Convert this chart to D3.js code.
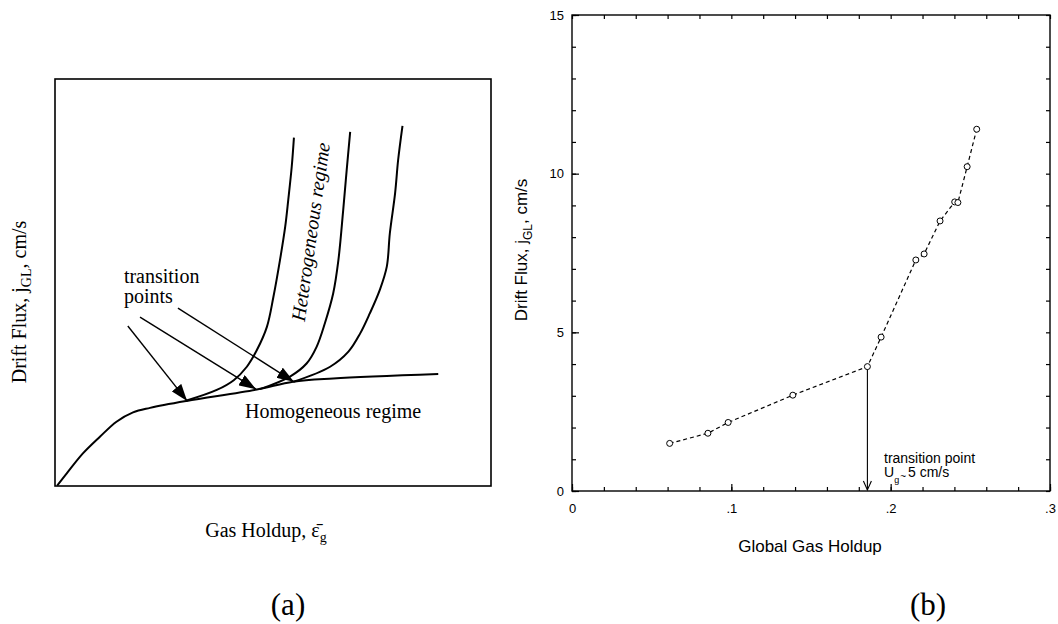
<!DOCTYPE html>
<html>
<head>
<meta charset="utf-8">
<script src="https://cdn.jsdelivr.net/npm/d3@7"></script>
<style>
  body { margin: 0; background: #fff; }
  svg { display: block; }
</style>
</head>
<body>
<svg id="chart" width="1058" height="624"></svg>
<script>
// ---- panel (a): schematic, values in arbitrary units 0..100 ----
var homogeneous = [[0.5,0.1],[2.7,3.1],[6.4,8.0],[10.3,12.1],[14.1,15.8],[17.9,18.1],[21.8,19.2],
                   [30.2,20.9],[46.3,23.7],[54.6,25.6],[63.8,26.4],[87.9,27.5]];
var hetero1 = [[30.2,21.0],[37.1,23.6],[41.0,26.0],[44.0,29.3],[46.3,33.4],[48.6,39.1],[50.1,46.5],
               [51.6,55.5],[52.8,63.7],[53.5,70.3],[54.3,78.5],[54.8,85.6]];
var hetero2 = [[47.0,23.8],[53.9,26.9],[57.7,30.1],[60.0,34.2],[61.9,40.0],[63.8,47.3],[65.0,55.5],
               [66.1,67.8],[66.9,77.6],[67.7,87.0]];
var hetero3 = [[54.7,25.6],[63.1,29.3],[67.3,33.0],[70.0,37.5],[72.2,42.4],[74.5,48.2],[76.1,53.9],
               [76.8,62.1],[78.0,71.9],[78.7,80.1],[79.7,88.5]];
// arrows: [from, to]
var transitionArrows = [[[16.7,39.3],[30.3,20.9]], [[19.5,41.5],[46.1,23.8]], [[28.2,43.7],[54.8,25.6]]];

// ---- panel (b): measured data ----
var holdup = [0.0613, 0.0853, 0.098, 0.1386, 0.1854, 0.194, 0.2158, 0.221, 0.231, 0.2402, 0.2422, 0.248, 0.254];
var driftFlux = [1.50, 1.82, 2.16, 3.02, 3.92, 4.85, 7.28, 7.47, 8.51, 9.11, 9.09, 10.22, 11.40];
var xMajor = [0, 0.1, 0.2, 0.3];
var yMajor = [0, 5, 10, 15];
var transitionHoldup = 0.1854;

var svg = d3.select("#chart");
svg.append("rect").attr("width", 1058).attr("height", 624).attr("fill", "#fff");

var defs = svg.append("defs");
defs.append("marker")
    .attr("id", "solidHead")
    .attr("viewBox", "0 0 10 10")
    .attr("refX", 10).attr("refY", 5)
    .attr("markerWidth", 17).attr("markerHeight", 12)
    .attr("markerUnits", "userSpaceOnUse")
    .attr("orient", "auto")
    .attr("preserveAspectRatio", "none")
  .append("path").attr("d", "M0,0L10,5L0,10Z").attr("fill", "#000");

// =============== panel (a) ===============
var ax = d3.scaleLinear().domain([0, 100]).range([55, 491]),
    ay = d3.scaleLinear().domain([0, 100]).range([486, 79]);
var serif = "'Liberation Serif', 'Times New Roman', serif";

var pa = svg.append("g");
pa.append("rect")
    .attr("x", ax(0)).attr("y", ay(100))
    .attr("width", ax(100) - ax(0)).attr("height", ay(0) - ay(100))
    .attr("fill", "none").attr("stroke", "#000").attr("stroke-width", 1.6);

var curveLine = d3.line()
    .x(function (d) { return ax(d[0]); })
    .y(function (d) { return ay(d[1]); })
    .curve(d3.curveCatmullRom.alpha(0.5));

[homogeneous, hetero1, hetero2, hetero3].forEach(function (c) {
    pa.append("path").attr("d", curveLine(c))
        .attr("fill", "none").attr("stroke", "#000").attr("stroke-width", 2);
});

transitionArrows.forEach(function (a) {
    pa.append("line")
        .attr("x1", ax(a[0][0])).attr("y1", ay(a[0][1]))
        .attr("x2", ax(a[1][0])).attr("y2", ay(a[1][1]))
        .attr("stroke", "#000").attr("stroke-width", 1.4)
        .attr("marker-end", "url(#solidHead)");
});

var tp = pa.append("text").attr("font-family", serif).attr("font-size", 20);
tp.append("tspan").attr("x", ax(15.8)).attr("y", ay(49.9)).text("transition");
tp.append("tspan").attr("x", ax(15.8)).attr("y", ay(45.0)).text("points");
pa.append("text").attr("x", ax(43.6)).attr("y", ay(16.7))
    .attr("font-family", serif).attr("font-size", 20).text("Homogeneous regime");
pa.append("text")
    .attr("transform", "translate(" + ax(57.3) + "," + ay(40.3) + ") rotate(-82)")
    .attr("font-family", serif).attr("font-size", 20).attr("font-style", "italic")
    .text("Heterogeneous regime");

// axis titles
var ylabA = pa.append("text")
    .attr("transform", "translate(26,302) rotate(-90)")
    .attr("text-anchor", "middle")
    .attr("font-family", serif).attr("font-size", 20);
ylabA.append("tspan").text("Drift Flux, j");
ylabA.append("tspan").attr("font-size", 14).attr("dy", 5).text("GL");
ylabA.append("tspan").attr("dy", -5).text(", cm/s");

var xlabA = pa.append("text")
    .attr("x", 266).attr("y", 537)
    .attr("text-anchor", "middle")
    .attr("font-family", serif).attr("font-size", 20);
xlabA.append("tspan").text("Gas Holdup, \u03B5\u0304");
xlabA.append("tspan").attr("font-size", 14).attr("dy", 5).text("g");

svg.append("text").attr("x", 288).attr("y", 615).attr("text-anchor", "middle")
    .attr("font-family", serif).attr("font-size", 31).text("(a)");
svg.append("text").attr("x", 928).attr("y", 615).attr("text-anchor", "middle")
    .attr("font-family", serif).attr("font-size", 31).text("(b)");

// =============== panel (b) ===============
var sans = "'Liberation Sans', Arial, Helvetica, sans-serif";
var x = d3.scaleLinear().domain([0, 0.3]).range([572, 1050]),
    y = d3.scaleLinear().domain([0, 15]).range([491, 15]);
var pb = svg.append("g");

function fmt(d) { return d === 0 ? "0" : d3.format(".1f")(d).replace(/^0/, ""); }

var xMinor = d3.range(0, 0.3001, 0.02), yMinor = d3.range(0, 15.01, 1);

// minor + major ticks, inward on all four sides
pb.append("g").attr("transform", "translate(0," + y(0) + ")")
    .call(d3.axisBottom(x).tickValues(xMinor).tickSize(-4).tickFormat(""));
pb.append("g").attr("transform", "translate(0," + y(15) + ")")
    .call(d3.axisTop(x).tickValues(xMinor).tickSize(-4).tickFormat(""));
pb.append("g").attr("transform", "translate(" + x(0) + ",0)")
    .call(d3.axisLeft(y).tickValues(yMinor).tickSize(-4).tickFormat(""));
pb.append("g").attr("transform", "translate(" + x(0.3) + ",0)")
    .call(d3.axisRight(y).tickValues(yMinor).tickSize(-4).tickFormat(""));

pb.append("g").attr("class", "major").attr("transform", "translate(0," + y(0) + ")")
    .call(d3.axisBottom(x).tickValues(xMajor).tickSize(-7).tickPadding(13).tickFormat(fmt));
pb.append("g").attr("class", "major").attr("transform", "translate(" + x(0) + ",0)")
    .call(d3.axisLeft(y).tickValues(yMajor).tickSize(-7).tickPadding(8).tickFormat(String));

pb.selectAll(".domain").remove();
pb.selectAll(".tick line").attr("stroke", "#000").attr("stroke-width", 1.2);
pb.selectAll(".major text").attr("font-family", sans).attr("font-size", 13).attr("fill", "#000");

pb.append("rect")
    .attr("x", x(0)).attr("y", y(15))
    .attr("width", x(0.3) - x(0)).attr("height", y(0) - y(15))
    .attr("fill", "none").attr("stroke", "#000").attr("stroke-width", 1.4);

var pts = holdup.map(function (h, i) { return [h, driftFlux[i]]; });

pb.append("path")
    .attr("d", d3.line().x(function (d) { return x(d[0]); }).y(function (d) { return y(d[1]); })(pts))
    .attr("fill", "none").attr("stroke", "#000").attr("stroke-width", 1.2)
    .attr("stroke-dasharray", "4,3");

pb.selectAll("circle.pt").data(pts).enter().append("circle")
    .attr("class", "pt")
    .attr("cx", function (d) { return x(d[0]); })
    .attr("cy", function (d) { return y(d[1]); })
    .attr("r", 3)
    .attr("fill", "#fff").attr("stroke", "#000").attr("stroke-width", 1);

// transition arrow
var tIdx = holdup.indexOf(transitionHoldup);
var ax0 = x(transitionHoldup);
pb.append("line")
    .attr("x1", ax0).attr("y1", y(driftFlux[tIdx]) + 3)
    .attr("x2", ax0).attr("y2", y(0) - 1)
    .attr("stroke", "#000").attr("stroke-width", 1.1);
pb.append("path")
    .attr("d", d3.line()([[ax0 - 4, y(0) - 10], [ax0, y(0) - 1], [ax0 + 4, y(0) - 10]]))
    .attr("fill", "none").attr("stroke", "#000").attr("stroke-width", 1.1);

pb.append("text").attr("x", 884).attr("y", 463)
    .attr("font-family", sans).attr("font-size", 14).text("transition point");
var ug = pb.append("text").attr("x", 884).attr("y", 477)
    .attr("font-family", sans).attr("font-size", 14);
ug.append("tspan").text("U");
ug.append("tspan").attr("font-size", 9).attr("dy", 6).text("g");
ug.append("tspan").attr("font-size", 10).attr("dx", 1).attr("dy", -3).text("~");
ug.append("tspan").attr("dx", 2).attr("dy", -3).text("5 cm/s");

pb.append("text").attr("x", 810).attr("y", 552).attr("text-anchor", "middle")
    .attr("font-family", sans).attr("font-size", 17).text("Global Gas Holdup");

var ylabB = pb.append("text")
    .attr("transform", "translate(527,250) rotate(-90)")
    .attr("text-anchor", "middle")
    .attr("font-family", sans).attr("font-size", 17);
ylabB.append("tspan").text("Drift Flux, j");
ylabB.append("tspan").attr("font-size", 12).attr("dy", 5).text("GL");
ylabB.append("tspan").attr("dy", -5).text(", cm/s");
</script>
</body>
</html>
